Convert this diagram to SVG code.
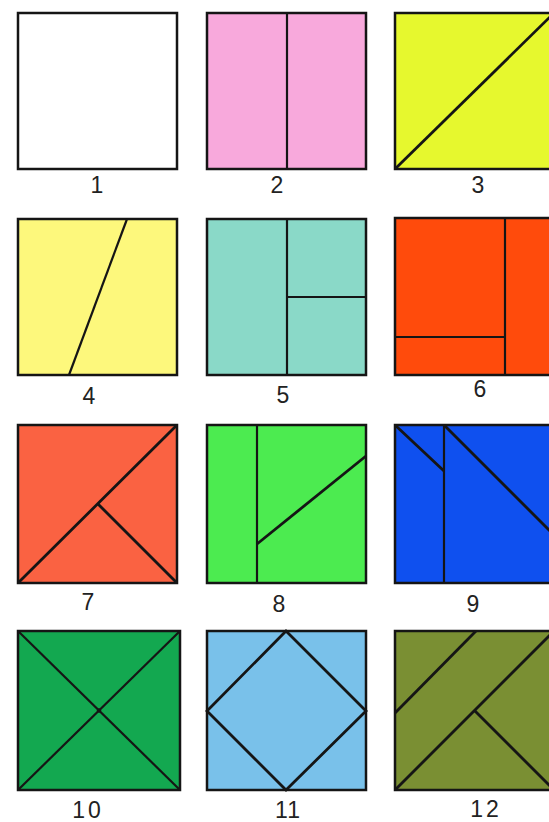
<svg xmlns="http://www.w3.org/2000/svg" width="549" height="822" viewBox="0 0 549 822">
<style>
.sq{stroke:#151515;stroke-width:2.5}
.ln{stroke:#151515;stroke-width:2.2;fill:none}
.tk{stroke:#151515;stroke-width:2.8;fill:none}
.lb{font-family:"Liberation Sans",Arial,sans-serif;font-size:23px;fill:#222;text-anchor:middle}
</style>
<rect width="549" height="822" fill="#ffffff"/>
<g id="fig1">
<rect class="sq" x="18" y="13" width="159" height="156" fill="#ffffff"/>
<text class="lb" x="97" y="193">1</text>
</g>
<g id="fig2">
<rect class="sq" x="207" y="13" width="159" height="156" fill="#F8A9DC"/>
<line class="ln" x1="287" y1="13" x2="287" y2="169"/>
<text class="lb" x="277" y="193">2</text>
</g>
<g id="fig3">
<rect class="sq" x="395" y="13" width="159" height="156" fill="#E6F82E"/>
<line class="tk" x1="395" y1="169" x2="554" y2="13"/>
<text class="lb" x="478" y="193">3</text>
</g>
<g id="fig4">
<rect class="sq" x="18" y="219" width="159" height="156" fill="#FDF87C"/>
<line class="ln" x1="127" y1="219" x2="69" y2="375"/>
<text class="lb" x="89" y="404">4</text>
</g>
<g id="fig5">
<rect class="sq" x="207" y="219" width="159" height="156" fill="#8AD9C8"/>
<line class="ln" x1="287" y1="219" x2="287" y2="375"/>
<line class="ln" x1="287" y1="297" x2="366" y2="297"/>
<text class="lb" x="283" y="403">5</text>
</g>
<g id="fig6">
<rect class="sq" x="395" y="218" width="159" height="157" fill="#FF4B0C"/>
<line class="ln" x1="505" y1="218" x2="505" y2="375"/>
<line class="ln" x1="395" y1="337" x2="505" y2="337"/>
<text class="lb" x="480" y="397">6</text>
</g>
<g id="fig7">
<rect class="sq" x="18" y="425" width="159" height="158" fill="#FA6242"/>
<line class="tk" x1="18" y1="583" x2="177" y2="425"/>
<line class="tk" x1="98" y1="504" x2="177" y2="583"/>
<text class="lb" x="88" y="610">7</text>
</g>
<g id="fig8">
<rect class="sq" x="207" y="425" width="159" height="158" fill="#4CEB50"/>
<line class="ln" x1="257" y1="425" x2="257" y2="583"/>
<line class="tk" x1="257" y1="544" x2="366" y2="456"/>
<text class="lb" x="279" y="612">8</text>
</g>
<g id="fig9">
<rect class="sq" x="395" y="425" width="159" height="158" fill="#0F50EF"/>
<line class="ln" x1="444" y1="425" x2="444" y2="583"/>
<line class="tk" x1="395" y1="425" x2="444" y2="471"/>
<line class="tk" x1="444" y1="425" x2="554" y2="535"/>
<text class="lb" x="473" y="612">9</text>
</g>
<g id="fig10">
<rect class="sq" x="18" y="631" width="162" height="159" fill="#13A850"/>
<line class="ln" x1="18" y1="631" x2="180" y2="790"/>
<line class="ln" x1="18" y1="790" x2="180" y2="631"/>
<circle cx="99" cy="710.5" r="2.2" fill="#151515"/>
<text class="lb" x="88" y="818" letter-spacing="3">10</text>
</g>
<g id="fig11">
<rect class="sq" x="207" y="631" width="159" height="159" fill="#79C1EA"/>
<polygon class="tk" points="286,631 366,711 286,790 207,711"/>
<text class="lb" x="288" y="818" letter-spacing="1">11</text>
</g>
<g id="fig12">
<rect class="sq" x="395" y="631" width="159" height="159" fill="#7A8F33"/>
<line class="tk" x1="395" y1="713" x2="476" y2="631"/>
<line class="tk" x1="395" y1="790" x2="554" y2="631"/>
<line class="tk" x1="475" y1="711" x2="554" y2="790"/>
<text class="lb" x="486" y="817" letter-spacing="3">12</text>
</g>
</svg>
